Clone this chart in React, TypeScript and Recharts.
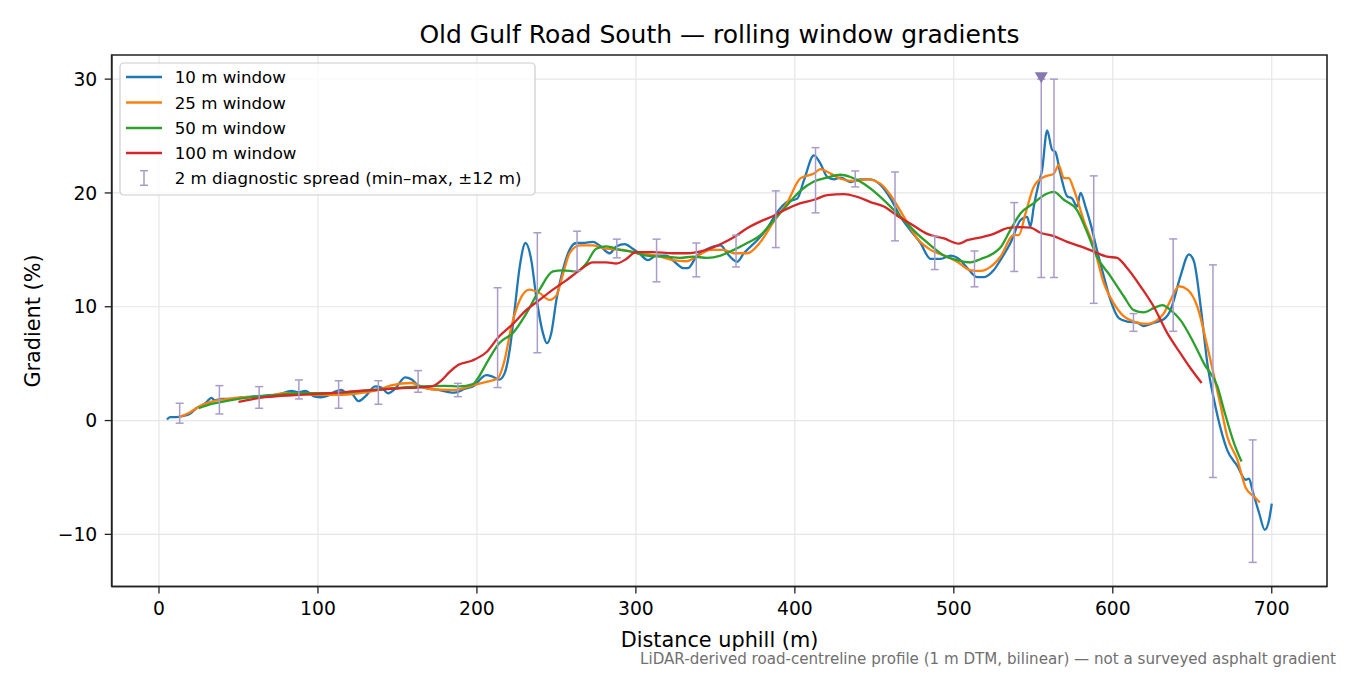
import React from 'react';
import {
  ComposedChart,
  Line,
  Scatter,
  ErrorBar,
  XAxis,
  YAxis,
  CartesianGrid,
  ReferenceArea,
} from 'recharts';

// [distance (m), gradient (%)]
const win10: [number, number][] = [
  [5, 0.1], [7, 0.3], [11, 0.3], [15, 0.4], [19.5, 0.6], [23.7, 1.1], [29, 1.5], [33, 2.0], [35, 1.8],
  [39.4, 1.9], [45.7, 1.9], [50, 2.0], [58, 2.1], [66.7, 2.2], [75, 2.3], [83.5, 2.6], [87.7, 2.5],
  [92, 2.6], [98, 2.1], [102, 2.05], [106.6, 2.2], [108.7, 2.4], [115, 2.7], [117, 2.5], [121, 2.4],
  [125.5, 1.7], [129.7, 2.1], [136, 3.0], [140, 2.9], [144, 2.4], [148.6, 2.8], [154.8, 3.8], [159, 3.6],
  [163, 3.1], [169.5, 2.8], [175.8, 2.7], [182, 2.5], [186, 2.45], [192.6, 2.8], [197.5, 3.0], [205.9, 4.0],
  [210, 3.85], [214, 3.6], [217.4, 4.15], [220.6, 6.2], [223.7, 9.7], [226.9, 13.5], [230.6, 15.6],
  [234.2, 14.1], [237.3, 10.9], [241.5, 7.7], [244, 6.8], [246.8, 7.7], [250, 10.6], [254, 13.2],
  [258.3, 15.0], [262.5, 15.6], [266.7, 15.6], [273, 15.7], [277, 15.4], [283.5, 14.7], [287.7, 15.3],
  [293, 15.5], [298, 15.1], [302, 14.7], [307.6, 14.1], [312.9, 14.5], [319, 14.5], [325.5, 13.8],
  [329.7, 13.4], [332.8, 13.4], [338, 14.4], [344, 15.0], [349, 15.3], [353.3, 15.4], [357.4, 14.7],
  [363.7, 13.95], [367.9, 14.7], [376.3, 15.85], [382.6, 16.9], [388.9, 18.3], [395, 19.2], [401.5, 19.5],
  [405.7, 21.1], [412, 23.3], [416, 22.6], [420.4, 21.4], [424.5, 21.2], [428.7, 21.35], [435, 20.96],
  [441.3, 21.2], [447.6, 21.2], [453.9, 20.7], [460.2, 19.5], [466.5, 17.9], [472.8, 16.7], [479, 15.6],
  [485.4, 14.2], [491.7, 14.2], [498, 14.5], [503.2, 14.2], [508.5, 13.4], [514.8, 12.6], [519, 12.6],
  [525, 13.2], [529.3, 14.1], [535.6, 15.6], [541.9, 17.6], [546.1, 17.9], [548.2, 17.05], [550.3, 18.8],
  [553.4, 20.85], [555.5, 22.0], [558.7, 25.5], [561.8, 23.8], [563.9, 23.6], [567, 21.7], [571.3, 19.7],
  [574.5, 19.5], [577.5, 18.8], [579.7, 20.0], [582.8, 18.8], [586, 17.3], [590, 15.0], [594.3, 12.7],
  [598.5, 10.6], [603.8, 9.0], [609, 8.7], [615.3, 8.6], [619.5, 8.3], [626, 8.6], [632, 8.9], [636.3, 9.7],
  [642.6, 12.7], [647.9, 14.6], [651, 14.0], [655.3, 10.0], [659.5, 5.0], [663.7, 1.8], [668, -0.8],
  [672, -2.6], [678.4, -4.0], [683.6, -5.2], [685.7, -5.1], [687.8, -6.1], [692, -8.1], [695.6, -9.6],
  [698.5, -8.6], [700, -7.3],
];

const win25: [number, number][] = [
  [12.5, 0.3], [18.5, 0.64], [24.8, 1.2], [33, 1.67], [41.5, 1.87], [54, 2.05], [66.7, 2.1], [79, 2.4],
  [87.7, 2.4], [100, 2.25], [113, 2.25], [125.5, 2.4], [138, 2.7], [146, 3.1], [159, 3.3], [163, 3.1],
  [171.6, 2.75], [184, 2.7], [189, 2.75], [197.5, 3.1], [205.9, 3.4], [213, 3.7], [217.4, 5.3], [221.6, 8.2],
  [227, 10.6], [233, 11.5], [239.4, 11.2], [245.7, 10.6], [250, 11.0], [254, 12.8], [258.3, 14.7],
  [264.6, 15.4], [273, 15.4], [281.4, 15.1], [292, 15.0], [302, 14.7], [312.9, 14.5], [323, 14.1],
  [331.8, 14.0], [338, 14.4], [347, 15.0], [355.3, 15.0], [361.6, 14.7], [370, 14.7], [378.4, 15.7],
  [386.8, 17.5], [395, 19.1], [403.6, 21.3], [412, 21.7], [416, 22.1], [422.5, 21.7], [428.7, 21.25],
  [437, 21.05], [445.5, 21.2], [454, 20.8], [460.2, 19.8], [468.6, 17.9], [477, 16.0], [485.4, 15.0],
  [493.8, 14.5], [502, 13.95], [510.6, 13.2], [517, 13.15], [523, 13.5], [529.3, 14.4], [537.7, 16.3],
  [540.9, 16.3], [545.1, 18.2], [550.3, 20.55], [556.6, 21.4], [562.9, 21.7], [566, 22.45], [569.2, 21.3],
  [572.3, 21.3], [575.5, 20.3], [581.7, 17.6], [588, 15.3], [594.3, 12.1], [600.6, 10.3], [607, 9.15],
  [613.2, 8.7], [621.6, 8.5], [628, 8.85], [632, 9.4], [635.4, 10.3], [641.7, 11.8], [647, 11.5],
  [653.2, 10.0], [659.5, 6.5], [663.7, 3.9], [668, 1.2], [672, -1.4], [678.4, -3.45], [683.6, -5.9],
  [689, -6.7], [692.5, -7.2],
];

const win50: [number, number][] = [
  [25, 1.08], [33, 1.46], [43.6, 1.75], [58.3, 2.05], [75, 2.25], [87.7, 2.4], [100, 2.4], [117, 2.46],
  [134, 2.7], [148.6, 2.84], [163, 3.0], [180, 3.04], [189, 3.0], [197.5, 3.2], [201, 3.8], [205.9, 5.0],
  [214, 6.8], [222.7, 7.7], [231, 9.4], [239.4, 11.5], [247.8, 13.1], [254, 13.2], [262.5, 13.1],
  [268.8, 13.8], [275, 15.1], [281.4, 15.3], [290, 15.0], [298, 14.8], [306.6, 14.5], [319, 14.4],
  [327.6, 14.3], [336, 14.4], [344.8, 14.3], [353.3, 14.5], [361.6, 15.0], [370, 15.6], [378.4, 16.3],
  [386.8, 17.6], [395, 18.9], [403.6, 20.2], [412, 21.0], [420.4, 21.35], [428.7, 21.6], [435, 21.4],
  [443.4, 20.8], [451.8, 19.9], [460.2, 18.8], [468.6, 17.6], [477, 16.4], [485.4, 15.4], [493.8, 14.5],
  [502, 14.1], [510.6, 13.9], [517, 14.2], [525, 14.7], [529.3, 15.2], [535.6, 16.75], [541.9, 18.2],
  [550.3, 19.1], [556.6, 19.8], [562.9, 20.1], [569.2, 19.4], [577.5, 18.5], [584, 16.5], [590, 14.4],
  [598.5, 12.7], [607, 10.9], [613.2, 9.7], [619.5, 9.5], [626, 9.9], [631.2, 10.15], [636.4, 9.7],
  [642.7, 8.8], [651, 6.8], [657.4, 5.0], [665.8, 3.0], [670, 0.9], [676.3, -2.0], [681, -3.6],
];

const win100: [number, number][] = [
  [50, 1.64], [58.3, 1.87], [66.7, 2.05], [75, 2.16], [87.7, 2.25], [100, 2.34], [112.9, 2.46], [125.5, 2.6],
  [138, 2.7], [150.6, 2.84], [163, 2.9], [171.6, 3.0], [178, 3.57], [183, 4.3], [188.4, 4.9], [196.8, 5.26],
  [205.9, 6.0], [214, 7.4], [222.7, 8.5], [231, 9.7], [239.4, 10.6], [247.8, 11.5], [256, 12.3],
  [264.6, 13.2], [273, 13.9], [281.4, 13.9], [287.7, 13.8], [294, 14.2], [300, 14.8], [310.8, 14.8],
  [323, 14.7], [331.8, 14.7], [344.3, 15.0], [354.8, 15.6], [361.6, 16.1], [370, 16.9], [378.4, 17.5],
  [386.8, 18.0], [395, 18.6], [403.6, 19.1], [412, 19.4], [420.4, 19.8], [431, 19.9], [439.3, 19.65],
  [447.6, 19.2], [456, 18.8], [464.4, 18.0], [472.8, 17.3], [483.3, 16.4], [493.8, 16.0], [503.2, 15.55],
  [508.5, 15.85], [517, 16.1], [525, 16.4], [533.7, 16.9], [542, 17.0], [548.3, 16.95], [554.5, 16.5],
  [562.9, 16.2], [571.3, 15.7], [579.7, 15.3], [588, 14.85], [596.4, 14.4], [602.7, 14.3], [609, 13.4],
  [617.4, 11.8], [625.8, 10.0], [634.2, 7.7], [642.6, 5.9], [648.9, 4.6], [655.9, 3.3],
];

// 2 m diagnostic spread (min / max within ±12 m)
const spreadX = [13, 38, 63, 88, 113, 138, 163, 188, 213, 238, 263, 288, 313, 338, 363, 388, 413, 438, 463, 488, 513, 538, 555, 563, 588, 613, 638, 663, 688];
const spreadLow = [-0.23, 0.58, 1.08, 1.9, 1.08, 1.43, 2.49, 2.1, 2.9, 5.96, 13.16, 14.3, 12.19, 12.63, 13.5, 15.2, 18.25, 20.53, 15.79, 13.27, 11.75, 13.1, 12.57, 12.57, 10.3, 7.84, 7.84, -5.0, -12.46];
const spreadHigh = [1.52, 3.07, 2.98, 3.57, 3.5, 3.5, 4.39, 3.27, 11.67, 16.5, 16.64, 15.94, 15.94, 15.6, 16.29, 20.18, 23.98, 21.93, 21.84, 16.2, 14.9, 19.15, 30, 30, 21.5, 9.4, 15.96, 13.68, -1.7];

// spread clipped at the top of the axis
const clippedX = [555];
const clippedY = [30];

const xTicks = [0, 100, 200, 300, 400, 500, 600, 700];
const yTicks = [-10, 0, 10, 20, 30];

const series = [
  { name: '10 m window', data: win10, color: '#1f77b4' },
  { name: '25 m window', data: win25, color: '#ff7f0e' },
  { name: '50 m window', data: win50, color: '#2ca02c' },
  { name: '100 m window', data: win100, color: '#d62728' },
];

const FONT = '"DejaVu Sans", sans-serif';
const SPREAD = '#a99cc9';
const CLIP = '#8878b0';

const toPoints = (arr: [number, number][]) => arr.map(([x, y]) => ({ x, y }));

const spreadData = spreadX.map((x, i) => ({
  x,
  y: (spreadLow[i] + spreadHigh[i]) / 2,
  err: (spreadHigh[i] - spreadLow[i]) / 2,
}));

const clipData = clippedX.map((x, i) => ({ x, y: clippedY[i] }));

const minus = (v: number) => String(v).replace('-', '\u2212');

const Hidden = () => <g />;

const DownTriangle = (props: any) => {
  const { cx, cy } = props;
  return (
    <polygon
      points={`${cx - 6.5},${cy - 7} ${cx + 6.5},${cy - 7} ${cx},${cy + 4}`}
      fill={CLIP}
    />
  );
};

function Overlay() {
  const rows = [77, 102.5, 128, 153, 178];
  return (
    <svg
      width={1350}
      height={675}
      style={{ position: 'absolute', left: 0, top: 0, pointerEvents: 'none', fontFamily: FONT }}
    >
      <text x={719.5} y={42.5} textAnchor="middle" fontSize={25} fill="#000">
        Old Gulf Road South — rolling window gradients
      </text>
      <text x={719.5} y={647} textAnchor="middle" fontSize={20.8} fill="#000">
        Distance uphill (m)
      </text>
      <text
        transform="translate(40,321) rotate(-90)"
        textAnchor="middle"
        fontSize={20.8}
        fill="#000"
      >
        Gradient (%)
      </text>
      <text x={1336} y={664} textAnchor="end" fontSize={15.1} fill="#6f6f6f">
        LiDAR-derived road-centreline profile (1 m DTM, bilinear) — not a surveyed asphalt gradient
      </text>

      {/* legend */}
      <rect x={120} y={63} width={415} height={132} rx={4} fill="#fff" fillOpacity={0.8} stroke="#cccccc" strokeWidth={1.2} />
      {series.map((s, i) => (
        <g key={s.name}>
          <line x1={126} x2={162} y1={rows[i]} y2={rows[i]} stroke={s.color} strokeWidth={2.3} />
          <text x={174.7} y={rows[i] + 6} fontSize={16.67} fill="#000">{s.name}</text>
        </g>
      ))}
      <g stroke={SPREAD} strokeWidth={1.5}>
        <line x1={144} x2={144} y1={170.7} y2={185.3} />
        <line x1={140} x2={148} y1={170.7} y2={170.7} />
        <line x1={140} x2={148} y1={185.3} y2={185.3} />
      </g>
      <text x={174.7} y={rows[4] + 6} fontSize={16.67} fill="#000">
        2 m diagnostic spread (min–max, ±12 m)
      </text>
    </svg>
  );
}

export default function App() {
  const xDomain: [number, number] = [-29.75, 734.75];
  const yDomain: [number, number] = [-14.58, 32.12];
  return (
    <div style={{ position: 'absolute', left: 0, top: 0, width: 1350, height: 675, background: '#fff', fontFamily: FONT }}>
      <ComposedChart
        width={1350}
        height={675}
        margin={{ top: 55, right: 23, bottom: 28.5, left: 11.7 }}
      >
        <CartesianGrid
          stroke="#e6e6e6"
          strokeWidth={1.2}
          horizontalValues={yTicks}
          verticalValues={xTicks}
        />
        <XAxis
          type="number"
          dataKey="x"
          domain={xDomain}
          ticks={xTicks}
          allowDataOverflow
          height={60}
          tickSize={7}
          tickMargin={8.2}
          axisLine={{ stroke: '#222', strokeWidth: 1.6 }}
          tickLine={{ stroke: '#222', strokeWidth: 1.3 }}
          tick={{ fill: '#000', fontSize: 18.75, fontFamily: FONT }}
          tickFormatter={minus}
        />
        <YAxis
          type="number"
          dataKey="y"
          domain={yDomain}
          ticks={yTicks}
          allowDataOverflow
          width={100}
          tickSize={7}
          tickMargin={7.4}
          axisLine={{ stroke: '#222', strokeWidth: 1.6 }}
          tickLine={{ stroke: '#222', strokeWidth: 1.3 }}
          tick={{ fill: '#000', fontSize: 18.75, fontFamily: FONT }}
          tickFormatter={minus}
        />
        {series.map((s) => (
          <Line
            key={s.name}
            data={toPoints(s.data)}
            dataKey="y"
            name={s.name}
            type="monotone"
            stroke={s.color}
            strokeWidth={2.3}
            dot={false}
            activeDot={false}
            isAnimationActive={false}
          />
        ))}
        <Scatter data={spreadData} dataKey="y" shape={Hidden} isAnimationActive={false}>
          <ErrorBar dataKey="err" direction="y" width={4} stroke={SPREAD} strokeWidth={1.5} isAnimationActive={false} />
        </Scatter>
        <Scatter data={clipData} dataKey="y" shape={DownTriangle} isAnimationActive={false} />
        <ReferenceArea
          x1={xDomain[0]}
          x2={xDomain[1]}
          y1={yDomain[0]}
          y2={yDomain[1]}
          fill="none"
          fillOpacity={0}
          stroke="#222"
          strokeWidth={1.6}
        />
      </ComposedChart>
      <Overlay />
    </div>
  );
}
